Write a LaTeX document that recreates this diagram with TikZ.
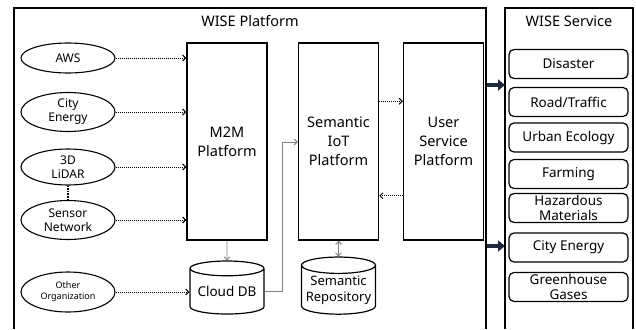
\documentclass[tikz,border=0pt]{standalone}
\usepackage{fontspec}
\setmainfont{Noto Sans}
\usetikzlibrary{shapes.geometric,arrows.meta}
\definecolor{navy}{HTML}{1F2A3C}
\tikzset{
  src/.style={draw, line width=1.1pt, ellipse, minimum width=94pt, inner sep=0pt, align=center, font=\fontsize{12}{14}\selectfont},
  plat/.style={draw, line width=1.5pt, rectangle, minimum width=80pt, minimum height=197pt, inner sep=0pt, align=center, font=\fontsize{14.5}{19}\selectfont},
  db/.style={draw, line width=1.2pt, cylinder, shape border rotate=90, aspect=0.25, minimum width=74pt, minimum height=53pt, inner sep=0pt, align=center, font=\fontsize{13.5}{18}\selectfont},
  svc/.style={draw, line width=1.2pt, rectangle, rounded corners=5pt, minimum width=119pt, minimum height=29pt, inner sep=0pt, align=center, font=\fontsize{13.5}{14.5}\selectfont},
  frame/.style={line width=1.5pt},
  title/.style={font=\fontsize{14.5}{17}\selectfont, inner sep=0pt},
  dotarrow/.style={densely dotted, line width=1pt, -{Straight Barb[length=3pt,width=6pt]}},
  grayarrow/.style={draw=gray, line width=0.9pt, -{Straight Barb[length=3pt,width=6pt]}},
  bigarrow/.style={draw=navy, line width=4.5pt, -{Triangle[length=7pt,width=11pt]}},
}
\begin{document}
\begin{tikzpicture}[x=1pt,y=-1pt]
\useasboundingbox (0,0) rectangle (636,329);
% frames
\draw[frame] (14,329) -- (14,8) -- (486,8) -- (486,329);
\draw[frame] (505,329) -- (505,8) -- (633,8) -- (633,329);
\node[title] (tp) at (250,21) {WISE Platform};
\node[title] (ts) at (569,21) {WISE Service};
% sources
\node[src, minimum height=30pt] (aws) at (68,58) {AWS};
\node[src, minimum height=39pt] (cen) at (68,112) {City\\Energy};
\node[src, minimum height=36pt] (lid) at (68,167) {3D\\LiDAR};
\node[src, minimum height=39pt] (sen) at (68,220) {Sensor\\Network};
\node[src, minimum height=40pt, font=\fontsize{9}{11}\selectfont] (oth) at (68,292) {Other\\Organization};
% platforms
\node[plat] (m2m) at (227,141.5) {M2M\\Platform};
\node[plat] (sem) at (338.5,141.5) {Semantic\\IoT\\Platform};
\node[plat] (usr) at (443.5,141.5) {User\\Service\\Platform};
% databases
\node[db] (cdb) at (227,291.5) {\raisebox{-5pt}{Cloud DB}};
\node[db, font=\fontsize{13}{16}\selectfont] (rep) at (338.5,290) {\raisebox{-5pt}{\begin{tabular}{@{}c@{}}Semantic\\Repository\end{tabular}}};
% services
\node[svc] (s1) at (568.5,64) {Disaster};
\node[svc] (s2) at (568.5,102) {Road/Traffic};
\node[svc] (s3) at (568.5,137.5) {Urban Ecology};
\node[svc] (s4) at (568.5,174) {Farming};
\node[svc] (s5) at (568.5,208) {Hazardous\\Materials};
\node[svc] (s6) at (568.5,247.5) {City Energy};
\node[svc] (s7) at (568.5,287) {Greenhouse\\Gases};
% source arrows
\foreach \n in {aws,cen,lid,sen} \draw[dotarrow] (\n.east) -- (m2m.west |- \n.east);
\draw[dotarrow] (oth.east) -- (cdb.west |- oth.east);
\draw[densely dotted, line width=1.6pt] (lid.south) -- (sen.north);
% gray links
\draw[grayarrow] (m2m.south) -- (cdb.north);
\coordinate (bend) at (282,142);
\draw[grayarrow] (cdb.east) -- (cdb.east -| bend) -- (bend) -- (sem.west |- bend);
\draw[grayarrow, {Straight Barb[length=3pt,width=6pt]}-{Straight Barb[length=3pt,width=6pt]}] (sem.south) -- (rep.north);
% semantic <-> user
\draw[dotarrow] ([yshift=-59pt]sem.north east) -- ([yshift=-59pt]usr.north west);
\draw[dotarrow] ([yshift=45pt]usr.south west) -- ([yshift=45pt]sem.south east);
% big arrows
\coordinate (a1s) at (487,85); \coordinate (a1e) at (505,85);
\coordinate (a2s) at (487,246); \coordinate (a2e) at (505,246);
\draw[bigarrow] (a1s) -- (a1e);
\draw[bigarrow] (a2s) -- (a2e);
\end{tikzpicture}
\end{document}
